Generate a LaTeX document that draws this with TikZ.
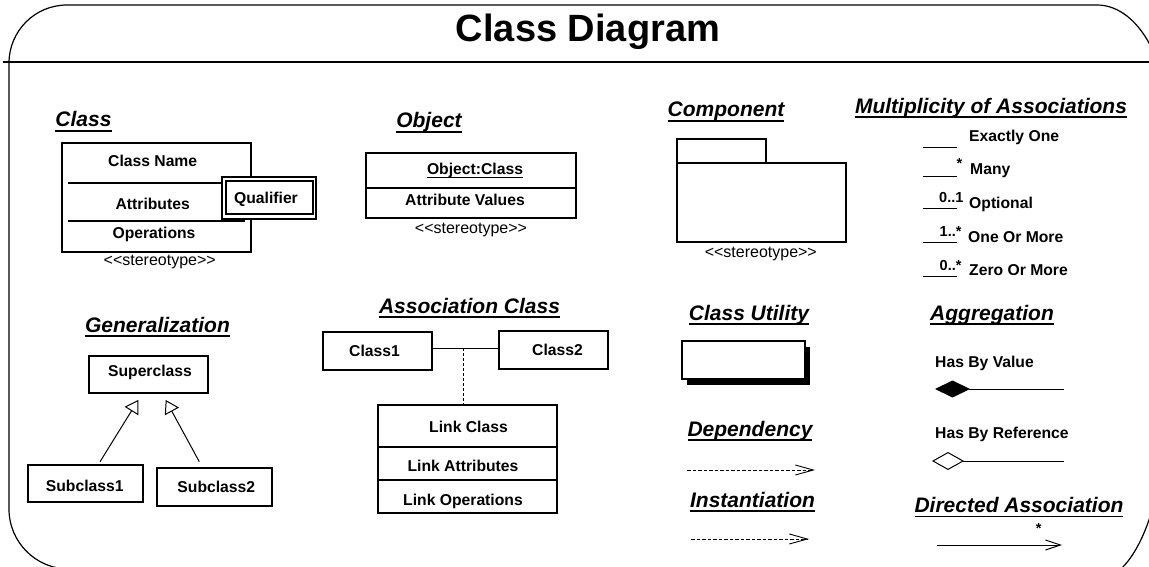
\documentclass[tikz,border=0pt]{standalone}
\usepackage{fontspec}
\setmainfont{Liberation Sans}
\usetikzlibrary{arrows.meta,calc}

% underlines for headings and for the object name
\newcommand\HeadUL[1]{\setbox0\hbox{#1}\leavevmode\rlap{\rule[-4.8pt]{\wd0}{1.8pt}}\box0}
\newcommand\NameUL[1]{\setbox0\hbox{#1}\leavevmode\rlap{\rule[-2.8pt]{\wd0}{1.1pt}}\box0}
\newcommand\stereo{<\kern0pt<stereotype>\kern0pt>}

\tikzset{
  umlbox/.style={draw, line width=1.1pt, fill=white, anchor=north west,
                 inner sep=0pt, outer sep=0pt},
  lbl/.style={font=\fontsize{15.7}{18}\selectfont\bfseries, inner sep=0pt, anchor=base},
  lblw/.style={lbl, anchor=base west},
  mult/.style={font=\fontsize{14.5}{16}\selectfont\bfseries, inner sep=0pt, anchor=base west},
  stereotype/.style={font=\fontsize{16}{18}\selectfont, inner sep=0pt, anchor=base},
  heading/.style={font=\fontsize{21}{24}\selectfont\bfseries\itshape, inner sep=0pt, anchor=base},
  thin/.style={line width=1.1pt},
  deparrow/.style={line width=0.9pt, dash pattern=on 3.5pt off 2pt,
                   -{Straight Barb[length=18pt,width=10pt]}},
  genarrow/.style={line width=1pt, -{Triangle[open,length=13pt,width=16pt]}},
}

\begin{document}
\begin{tikzpicture}[x=1pt,y=-1pt]
\useasboundingbox (0,0) rectangle (1149,567);
\clip (0,0) rectangle (1149,567);

% outer frame (its right and bottom sides run past the page) and title bar
\draw[line width=1.2pt] (9,509) -- (9,63)
   arc[start angle=180,end angle=270,radius=58] -- (1097,5)
   arc[start angle=270,end angle=360,x radius=70,y radius=114.9] -- (1167,398.8)
   arc[start angle=0,end angle=90,x radius=70,y radius=181] -- (69,569)
   arc[start angle=90,end angle=180,radius=60] -- cycle;
\draw[line width=1.2pt] (3,62) -- (1149,62);
\node[font=\fontsize{38}{44}\selectfont\bfseries, inner sep=0pt, anchor=base] (title) at (588,42) {Class Diagram};

% ---- Class ----
\node[heading] (hclass) at (83.5,127) {\HeadUL{Class}};
\node[umlbox, minimum width=189pt, minimum height=109pt] (cls) at (62,143) {};
\draw[thin] (68,183) -- (222,183);
\draw[thin] (68,221) -- (245,221);
\node[lbl] (clsname) at (152.7,166.7) {Class Name};
\node[lbl] (clsattr) at (152.7,209) {Attributes};
\node[lbl] (clsops) at (154,238) {Operations};
\node[umlbox, minimum width=94pt, minimum height=42pt] (qualout) at (222,177) {};
\node[umlbox, minimum width=87pt, minimum height=33pt] (qualin) at (226,181) {};
\node[lbl] (qual) at (266,203.5) {Qualifier};
\node[stereotype] (clsst) at (159.7,265.5) {\stereo};

% ---- Object ----
\node[heading] (hobj) at (429,128) {\HeadUL{Object}};
\node[umlbox, minimum width=210pt, minimum height=65pt] (obj) at (366,153) {};
\draw[thin] (366,188) -- (576,188);
\node[lbl] (objname) at (475,175) {\NameUL{Object:Class}};
\node[lbl] (objattr) at (465,205) {Attribute Values};
\node[stereotype] (objst) at (471,233.3) {\stereo};

% ---- Component ----
\node[heading] (hcomp) at (726,117) {\HeadUL{Component}};
\node[umlbox, minimum width=89pt, minimum height=24pt] (comptab) at (677,139) {};
\node[umlbox, minimum width=169pt, minimum height=79pt] (comp) at (677,163) {};
\node[stereotype] (compst) at (760.8,257.7) {\stereo};

% ---- Multiplicity of Associations ----
\node[heading] (hmult) at (991,113.5) {\HeadUL{Multiplicity of Associations}};
\foreach \yy in {148,177,208,242,276} \draw[line width=1pt] (923,\yy) -- (957,\yy);
\node[lblw] (m1) at (969,141.7) {Exactly One};
\node[mult] (s2) at (956.5,168) {*};
\node[lblw] (m2) at (970,174.3) {Many};
\node[mult] (s3) at (939,202.7) {0..1};
\node[lblw] (m3) at (969,208) {Optional};
\node[mult] (s4) at (939.5,236.7) {1..*};
\node[lblw] (m4) at (968,242.3) {One Or More};
\node[mult] (s5) at (939.5,270) {0..*};
\node[lblw] (m5) at (969,275.7) {Zero Or More};

% ---- Generalization ----
\node[heading] (hgen) at (157.5,332) {\HeadUL{Generalization}};
\node[umlbox, minimum width=119pt, minimum height=37pt] (super) at (89,356) {};
\node[lbl] at (150,376) {Superclass};
\node[umlbox, minimum width=115pt, minimum height=37pt] (sub1) at (28,465) {};
\node[lbl] at (84.7,491.7) {Subclass1};
\node[umlbox, minimum width=115pt, minimum height=38pt] (sub2) at (157,468) {};
\node[lbl] at (216.3,492.7) {Subclass2};
\draw[genarrow, shorten <=3.9pt, shorten >=8.2pt]
  ($(sub1.north)+(12.5,0)$) -- ($(super.south)+(-5.9,0)$);
\draw[genarrow, shorten <=7.2pt, shorten >=8pt]
  ($(sub2.north)+(-11.8,0)$) -- ($(super.south)+(13.4,0)$);

% ---- Association Class ----
\node[heading] (hassoc) at (469.5,313) {\HeadUL{Association Class}};
\node[umlbox, minimum width=109pt, minimum height=38pt] (c1) at (323,332) {};
\node[lbl] at (374.5,356.7) {Class1};
\node[umlbox, minimum width=109pt, minimum height=38pt] (c2) at (499,331) {};
\node[lbl] at (557.5,355) {Class2};
\node[umlbox, minimum width=179pt, minimum height=108pt] (link) at (378,405) {};
\draw[thin] (378,447) -- (557,447);
\draw[thin] (378,480) -- (557,480);
\node[lbl] at (468.5,432.7) {Link Class};
\node[lbl] at (463,471) {Link Attributes};
\node[lbl] at (463,505) {Link Operations};
\coordinate (ac) at (463,348);
\draw[line width=1pt] (ac -| c1.east) -- (ac -| c2.west);
\draw[line width=1pt, dash pattern=on 3pt off 2pt] (ac) -- (ac |- link.north);

% ---- Class Utility ----
\node[heading] (hutil) at (749,320) {\HeadUL{Class Utility}};
\fill (687,347) rectangle (810,385);
\node[umlbox, minimum width=123pt, minimum height=38pt] (util) at (682,341) {};

% ---- Dependency / Instantiation ----
\node[heading] (hdep) at (750,436) {\HeadUL{Dependency}};
\coordinate (dep1) at (687,470);
\coordinate (dep2) at (815,470);
\draw[deparrow] (dep1) -- (dep2);
\node[heading] (hinst) at (752.5,507) {\HeadUL{Instantiation}};
\coordinate (inst1) at (691,539);
\coordinate (inst2) at (809,539);
\draw[deparrow] (inst1) -- (inst2);

% ---- Aggregation ----
\node[heading] (hagg) at (992,320) {\HeadUL{Aggregation}};
\node[lblw] (hbv) at (935,367) {Has By Value};
\coordinate (agv1) at (935,389);
\coordinate (agv2) at (1064,389);
\draw[line width=1pt, {Diamond[length=35pt,width=17pt]}-] (agv1) -- (agv2);
\node[lblw] (hbr) at (935,438.3) {Has By Reference};
\coordinate (agr1) at (932,461);
\coordinate (agr2) at (1064,461);
\draw[line width=1pt, {Diamond[open,length=32pt,width=18pt]}-] (agr1) -- (agr2);

% ---- Directed Association ----
\node[heading] (hdir) at (1019,512.5) {\HeadUL{Directed Association}};
\node[mult, anchor=base] (dstar) at (1038.7,533) {*};
\coordinate (da1) at (937,545);
\coordinate (da2) at (1062,545);
\draw[line width=1pt, -{Straight Barb[length=15pt,width=10pt]}] (da1) -- (da2);

\end{tikzpicture}
\end{document}
